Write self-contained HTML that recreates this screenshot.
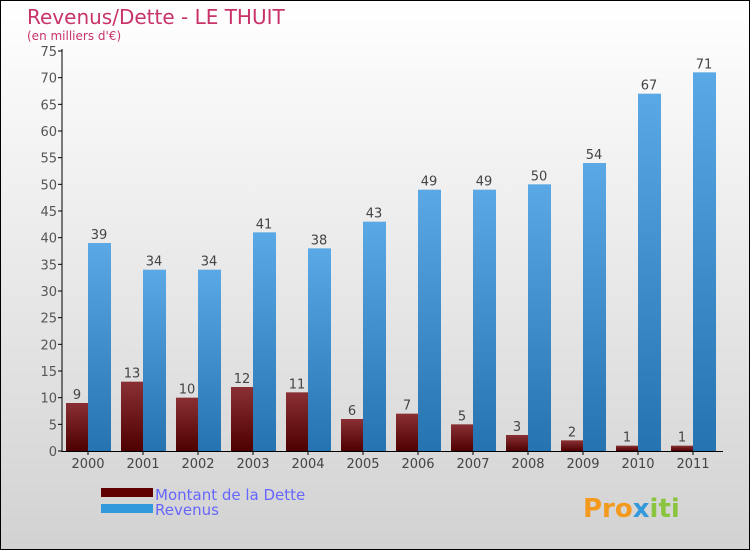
<!DOCTYPE html>
<html><head><meta charset="utf-8"><style>
body{margin:0}
#c{position:relative;width:748px;height:548px;border:1px solid #000;background:linear-gradient(#fff,#d2d2d2);font-family:"DejaVu Sans","Liberation Sans",sans-serif;overflow:hidden}
</style></head><body>
<div id="c">
<svg width="748" height="548" id="s">
<defs>
<linearGradient id="gd" x1="0" y1="0" x2="0" y2="1"><stop offset="0" stop-color="#8a3034"/><stop offset="1" stop-color="#4e0000"/></linearGradient>
<linearGradient id="gr" x1="0" y1="0" x2="0" y2="1"><stop offset="0" stop-color="#5aa9e6"/><stop offset="1" stop-color="#2573b0"/></linearGradient>
</defs>
<text x="26" y="23" font-size="20" fill="#c8336a">Revenus/Dette - LE THUIT</text>
<text x="26" y="39" font-size="12" fill="#c8336a">(en milliers d'€)</text>
<g id="g"></g>
<rect x="100" y="487" width="52" height="9" fill="#600000"/>
<rect x="100" y="503" width="52" height="9" fill="#3399dd"/>
<text x="154" y="499" font-size="15" fill="#6666ff">Montant de la Dette</text>
<text x="154" y="514" font-size="15" fill="#6666ff">Revenus</text>
<text x="582" y="516" font-size="26" font-weight="bold" fill="#f39a1e">Pro<tspan fill="#3399dd">x</tspan><tspan fill="#8bc53f">iti</tspan></text>
</svg></div>
<script>
const years=["2000","2001","2002","2003","2004","2005","2006","2007","2008","2009","2010","2011"];
const dette=[9,13,10,12,11,6,7,5,3,2,1,1];
const revenus=[39,34,34,41,38,43,49,49,50,54,67,71];
const ticks=[0,5,10,15,20,25,30,35,40,45,50,55,60,65,70,75];
const NS="http://www.w3.org/2000/svg",g=document.getElementById('g');
const y=v=>450-v*400/75, xc=i=>87+i*55;
function mk(t,a,txt){const e=document.createElementNS(NS,t);for(const k in a)e.setAttribute(k,a[k]);if(txt!=null)e.textContent=txt;g.appendChild(e);return e;}
ticks.forEach(t=>{
 const l=mk('line',{x1:57,x2:61,y1:y(t),y2:y(t),stroke:'#000'});
 
 
 const tx=mk('text',{x:56,y:y(t)+5,'text-anchor':'end','font-size':13,fill:'#555'},t);
 
 
});
years.forEach((yr,i)=>{
 const c=xc(i);
 const b1=mk('rect',{x:c-22,y:y(dette[i]),width:22,height:450-y(dette[i]),fill:'url(#gd)'});
 
 
 const b2=mk('rect',{x:c,y:y(revenus[i]),width:23,height:450-y(revenus[i]),fill:'url(#gr)'});
 
 
 const v1=mk('text',{x:c-11,y:y(dette[i])-4,'text-anchor':'middle','font-size':13,fill:'#444'},dette[i]);
 
 
 const v2=mk('text',{x:c+11,y:y(revenus[i])-4,'text-anchor':'middle','font-size':13,fill:'#444'},revenus[i]);
 
 
 const tk=mk('line',{x1:c,x2:c,y1:450,y2:454,stroke:'#000'});
 
 
 const xl=mk('text',{x:c,y:467,'text-anchor':'middle','font-size':13,fill:'#444'},yr);
 
 
});
const ya=mk('line',{x1:61,x2:61,y1:48,y2:451,stroke:'#000'});


const xa=mk('line',{x1:61,x2:722,y1:450.5,y2:450.5,stroke:'#000'});


</script>
</body></html>
